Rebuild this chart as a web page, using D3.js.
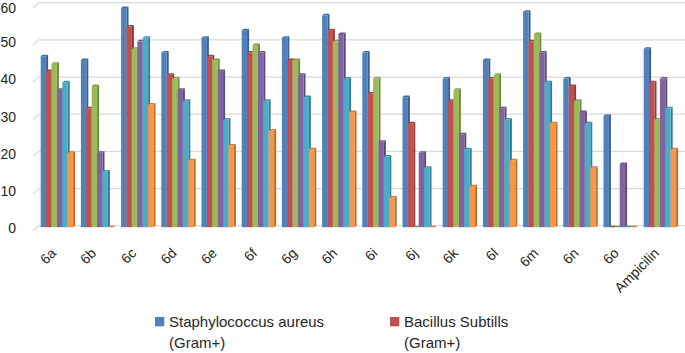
<!DOCTYPE html>
<html>
<head>
<meta charset="utf-8">
<script src="https://cdn.jsdelivr.net/npm/d3@7"></script>
<style>
  body { margin: 0; background: #fff; }
  text { font-family: "Liberation Sans", Arial, sans-serif; fill: #262626; }
</style>
</head>
<body>
<svg id="chart" width="685" height="353"></svg>
<script>
var categories = ["6a","6b","6c","6d","6e","6f","6g","6h","6i","6j","6k","6l","6m","6n","6o","Ampicilin"]
var staphAureus = [46,45,59,47,51,53,51,57,47,35,40,45,58,40,30,48]
var bacillusSubtills = [42,32,54,41,46,47,45,53,36,28,34,40,50,38,0,39]
var series3 = [44,38,48,40,45,49,45,50,40,0,37,41,52,34,0,29]
var series4 = [37,20,50,37,42,47,41,52,23,20,25,32,47,31,17,40]
var series5 = [39,15,51,34,29,34,35,40,19,16,21,29,39,28,0,32]
var series6 = [20,0,33,18,22,26,21,31,8,0,11,18,28,16,0,21]
var yTicks = [0,10,20,30,40,50,60]
var legendLabels = [["Staphylococcus aureus","(Gram+)"], ["Bacillus Subtills","(Gram+)"]]

var allSeries = [staphAureus, bacillusSubtills, series3, series4, series5, series6]
var colors = ["#4F81BD","#C0504D","#9BBB59","#8064A2","#4BACC6","#F79646"]

var svg = d3.select("#chart")
var depthX = 2, depthY = 1.5

var y = d3.scaleLinear().domain([0, 60]).range([225.7, 2.7])
var x = d3.scaleBand().domain(categories)
    .range([35, 681.8]).paddingInner(0.194).paddingOuter(0.142)
var xs = d3.scaleBand().domain(d3.range(allSeries.length)).range([0, x.bandwidth()])

// gridlines on back wall, with small diagonal on the side wall
var grid = svg.append("g").attr("id", "grid")
grid.selectAll("path")
    .data(yTicks)
    .enter()
    .append("path")
    .attr("d", function(d){
	return "M33," + (y(d) + 5) + "L39," + y(d) + "L685," + y(d)})
    .attr("fill", "none")
    .attr("stroke", "#d9d9d9")
    .attr("stroke-width", 1.3)

svg.append("g").selectAll("text")
    .data(yTicks)
    .enter()
    .append("text")
    .attr("x", 16)
    .attr("y", function(d){return Math.max(y(d) + 2.5, 8)})
    .attr("dy", "0.35em")
    .attr("text-anchor", "end")
    .attr("font-size", 14)
    .text(function(d){return d})

// bars
var groups = svg.append("g").attr("id", "bars")
    .selectAll("g")
    .data(categories)
    .enter()
    .append("g")
    .attr("transform", function(d){return "translate(" + x(d) + ",0)"})

var bars = groups.selectAll("g")
    .data(function(d,i){return allSeries.map(function(s,j){return [j, s[i]]})})
    .enter()
    .append("g")

function front(d){ return y(d[1]) + depthY }
var bottom = y(0) + depthY

bars.append("path")
    .attr("d", function(d){
	var x0 = xs(d[0]), w = xs.bandwidth(), t = front(d)
	return "M" + (x0 + w) + "," + t + "L" + (x0 + w + depthX) + "," + (t - depthY) +
	    "L" + (x0 + w + depthX) + "," + (bottom - depthY) + "L" + (x0 + w) + "," + bottom + "Z"})
    .attr("fill", function(d){return d3.rgb(colors[d[0]]).darker(0.9)})

bars.append("path")
    .attr("d", function(d){
	var x0 = xs(d[0]), w = xs.bandwidth(), t = front(d)
	return "M" + x0 + "," + t + "L" + (x0 + depthX) + "," + (t - depthY) +
	    "L" + (x0 + w + depthX) + "," + (t - depthY) + "L" + (x0 + w) + "," + t + "Z"})
    .attr("fill", function(d){return d3.rgb(colors[d[0]]).darker(0.5)})

bars.append("rect")
    .attr("x", function(d){return xs(d[0])})
    .attr("y", function(d){return front(d)})
    .attr("width", xs.bandwidth())
    .attr("height", function(d){return bottom - front(d)})
    .attr("fill", function(d){return colors[d[0]]})

// category labels
svg.append("g").selectAll("text")
    .data(categories)
    .enter()
    .append("text")
    .attr("transform", function(d){
	return "translate(" + (x(d) + x.bandwidth() / 2) + ",254) rotate(-45)"})
    .attr("text-anchor", "end")
    .attr("font-size", 14)
    .text(function(d){return d})

// legend (only the first two entries fit)
var legend = svg.append("g").selectAll("g")
    .data(legendLabels)
    .enter()
    .append("g")
    .attr("transform", function(d,i){return "translate(" + (155 + i * 235) + ",317)"})

legend.append("rect")
    .attr("width", 9.3)
    .attr("height", 9.3)
    .attr("fill", function(d,i){return colors[i]})

legend.append("text")
    .attr("x", 14)
    .attr("y", 10.3)
    .attr("font-size", 15)
    .selectAll("tspan")
    .data(function(d){return d})
    .enter()
    .append("tspan")
    .attr("x", 14)
    .attr("dy", function(d,i){return i ? 20.3 : 0})
    .text(function(d){return d})
</script>
</body>
</html>
